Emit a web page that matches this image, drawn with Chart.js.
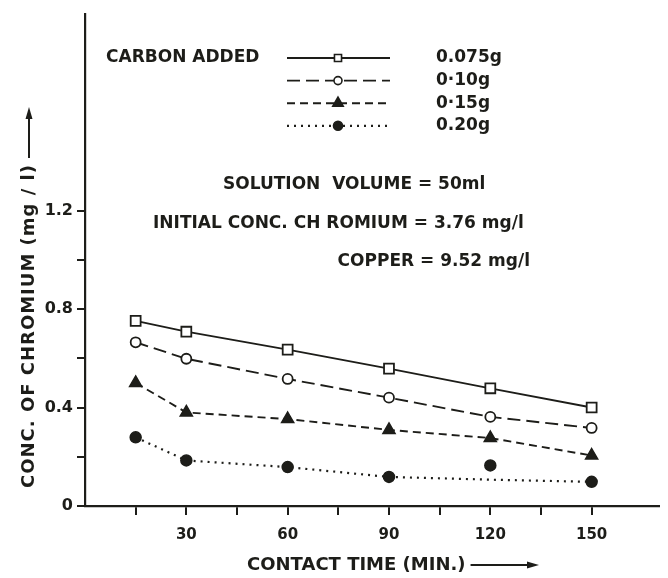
<!DOCTYPE html>
<html>
<head>
<meta charset="utf-8">
<script src="https://cdn.jsdelivr.net/npm/chart.js@4.4.1/dist/chart.umd.min.js"></script>
<style>
  html, body { margin: 0; padding: 0; background: #ffffff; }
  #c { display: block; }
</style>
</head>
<body>
<canvas id="c" width="668" height="578"></canvas>
<script>
// ---- data ----
const times = [15, 30, 60, 90, 120, 150];             // contact time (min)
const c075 = [0.752, 0.708, 0.635, 0.558, 0.478, 0.400]; // 0.075 g carbon
const c010 = [0.665, 0.598, 0.516, 0.440, 0.362, 0.317]; // 0.10 g carbon
const c015 = [0.500, 0.380, 0.353, 0.309, 0.276, 0.205]; // 0.15 g carbon
const c020 = [0.279, 0.185, 0.158, 0.118, 0.165, 0.098]; // 0.20 g carbon (points)
const c020Curve = [0.279, 0.185, 0.158, 0.118, 0.107, 0.098]; // drawn curve for 0.20 g
const seriesLabels = ['0.075g', '0·10g', '0·15g', '0.20g'];
const xTickValues = [15, 30, 45, 60, 75, 90, 105, 120, 135, 150];
const xTickLabels = ['', '30', '', '60', '', '90', '', '120', '', '150'];
const yTickValues = [0, 0.2, 0.4, 0.6, 0.8, 1.0, 1.2];
const yTickLabels = ['0', '', '0.4', '', '0.8', '', '1.2'];
const noteLines = ['SOLUTION  VOLUME = 50ml', 'INITIAL CONC. CH ROMIUM = 3.76 mg/l', 'COPPER = 9.52 mg/l'];

const ink = '#1d1d19';
const FONT = '"DejaVu Sans", "Liberation Sans", sans-serif';

const styles = [
  { dash: [], style: 'rect', r: 7, fill: '#ffffff', lw: 1.8, lr: 5, lwLine: 1.9 },
  { dash: [13, 6], style: 'circle', r: 5, fill: '#ffffff', lw: 1.8, lr: 4, lwLine: 1.9 },
  { dash: [8, 5], style: 'triangle', r: 7, fill: ink, lw: 1.5, lr: 6, lwLine: 1.9 },
  { dash: [2, 5], style: 'circle', r: 5.5, fill: ink, lw: 1.5, lr: 4.5, lwLine: 2.2 }
];
const pointSets = [c075, c010, c015, c020];
const curveSets = [c075, c010, c015, c020Curve];

function toXY(arr) { return times.map((t, i) => ({ x: t, y: arr[i] })); }

const datasets = [];
pointSets.forEach((pts, i) => {
  const s = styles[i];
  datasets.push({
    label: seriesLabels[i] + ' curve',
    data: toXY(curveSets[i]),
    borderColor: ink,
    borderWidth: s.lwLine,
    borderDash: s.dash,
    pointRadius: 0,
    showLine: true,
    fill: false,
    tension: 0,
    order: 2
  });
  datasets.push({
    label: seriesLabels[i],
    data: toXY(pts),
    showLine: false,
    pointStyle: s.style,
    pointRadius: s.r,
    pointBackgroundColor: s.fill,
    pointBorderColor: ink,
    pointBorderWidth: s.lw,
    order: 1
  });
});

function drawMarker(ctx, style, x, y, r, fill) {
  ctx.save();
  ctx.setLineDash([]);
  ctx.beginPath();
  if (style === 'rect') {
    const h = r * Math.SQRT1_2;
    ctx.rect(x - h, y - h, 2 * h, 2 * h);
  } else if (style === 'circle') {
    ctx.arc(x, y, r, 0, Math.PI * 2);
  } else if (style === 'triangle') {
    ctx.moveTo(x, y - r);
    ctx.lineTo(x + r * 0.866, y + r * 0.5);
    ctx.lineTo(x - r * 0.866, y + r * 0.5);
    ctx.closePath();
  }
  ctx.fillStyle = fill;
  ctx.fill();
  ctx.lineWidth = 1.6;
  ctx.strokeStyle = ink;
  ctx.stroke();
  ctx.restore();
}

function arrow(ctx, x1, y1, x2, y2) {
  ctx.save();
  ctx.strokeStyle = ink;
  ctx.fillStyle = ink;
  ctx.lineWidth = 2;
  ctx.setLineDash([]);
  const ang = Math.atan2(y2 - y1, x2 - x1);
  const hl = 12, hw = 3.5;
  const bx = x2 - hl * Math.cos(ang), by = y2 - hl * Math.sin(ang);
  ctx.beginPath(); ctx.moveTo(x1, y1); ctx.lineTo(bx, by); ctx.stroke();
  ctx.beginPath();
  ctx.moveTo(x2, y2);
  ctx.lineTo(bx + hw * Math.sin(ang), by - hw * Math.cos(ang));
  ctx.lineTo(bx - hw * Math.sin(ang), by + hw * Math.cos(ang));
  ctx.closePath(); ctx.fill();
  ctx.restore();
}

const annotations = {
  id: 'annotations',
  afterDraw(chart) {
    const ctx = chart.ctx;
    ctx.save();
    ctx.fillStyle = ink;
    ctx.textBaseline = 'middle';
    ctx.textAlign = 'left';
    ctx.font = 'bold 17px ' + FONT;
    ctx.fillText('CARBON ADDED', 106, 58);
    // legend rows
    for (let i = 0; i < 4; i++) {
      const s = styles[i];
      const y = 58 + i * 22.6;
      ctx.save();
      ctx.strokeStyle = ink;
      ctx.lineWidth = s.lwLine;
      ctx.setLineDash(s.dash);
      ctx.beginPath(); ctx.moveTo(287, y); ctx.lineTo(390, y); ctx.stroke();
      ctx.restore();
      drawMarker(ctx, s.style, 338, y, s.lr, s.fill);
      ctx.fillStyle = ink;
      ctx.fillText(seriesLabels[i], 436, y);
    }
    // notes
    ctx.fillText(noteLines[0], 223, 185);
    ctx.fillText(noteLines[1], 153, 224);
    ctx.textAlign = 'right';
    ctx.fillText(noteLines[2], 530, 262);
    ctx.textAlign = 'left';
    // x title
    ctx.font = 'bold 18px ' + FONT;
    const xt = 'CONTACT TIME (MIN.)';
    ctx.fillText(xt, 247, 565);
    const xw = ctx.measureText(xt).width;
    arrow(ctx, 247 + xw + 5, 565, 539, 565);
    // y title
    ctx.save();
    ctx.translate(29, 488);
    ctx.rotate(-Math.PI / 2);
    ctx.letterSpacing = '1px';
    const yt = 'CONC. OF CHROMIUM (mg / l)';
    ctx.fillText(yt, 0, 0);
    const yw = ctx.measureText(yt).width;
    ctx.restore();
    arrow(ctx, 29, 488 - yw - 6, 29, 107);
    ctx.restore();
  }
};

new Chart(document.getElementById('c'), {
  type: 'scatter',
  data: { datasets },
  plugins: [annotations],
  options: {
    responsive: false,
    animation: false,
    layout: { padding: { top: 9, right: 8, left: 0, bottom: 0 } },
    plugins: { legend: { display: false }, tooltip: { enabled: false } },
    scales: {
      x: {
        type: 'linear', min: 0, max: 170, position: 'bottom',
        afterFit(scale) { scale.height = 72; },
        afterBuildTicks(scale) { scale.ticks = xTickValues.map(v => ({ value: v })); },
        border: { display: true, color: ink, width: 2.2 },
        grid: { drawOnChartArea: false, drawTicks: true, tickLength: 9, color: ink, lineWidth: 2 },
        ticks: {
          color: ink, padding: 11, maxRotation: 0, autoSkip: false,
          font: { family: FONT, size: 15, weight: 'bold' },
          callback(v) { const i = xTickValues.indexOf(v); return i >= 0 ? xTickLabels[i] : ''; }
        }
      },
      y: {
        type: 'linear', min: 0, max: 2.0,
        afterFit(scale) { scale.width = 85; },
        afterBuildTicks(scale) { scale.ticks = yTickValues.map(v => ({ value: v })); },
        border: { display: true, color: ink, width: 2.2 },
        grid: { drawOnChartArea: false, drawTicks: true, tickLength: 8, color: ink, lineWidth: 2 },
        ticks: {
          color: ink, padding: 4, autoSkip: false,
          font: { family: FONT, size: 16, weight: 'bold' },
          callback(v) {
            const i = yTickValues.findIndex(t => Math.abs(t - v) < 1e-6);
            return i >= 0 ? yTickLabels[i] : '';
          }
        }
      }
    }
  }
});
</script>
</body>
</html>
